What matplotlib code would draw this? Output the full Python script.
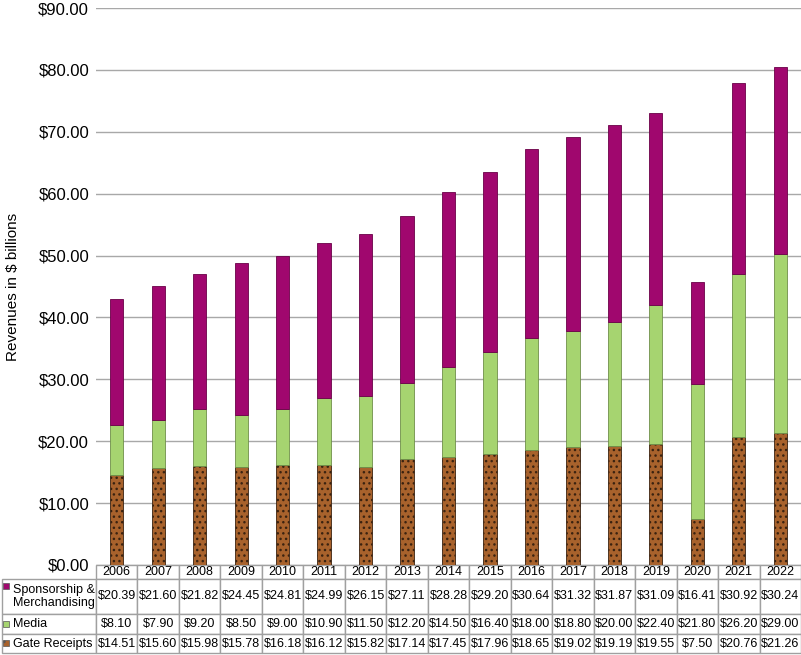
import matplotlib
matplotlib.use("Agg")
import matplotlib.pyplot as plt
from matplotlib.patches import Rectangle
from matplotlib.table import Table

plt.rcParams['font.family'] = ['Liberation Sans', 'DejaVu Sans']

years = ['2006', '2007', '2008', '2009', '2010', '2011', '2012', '2013', '2014',
         '2015', '2016', '2017', '2018', '2019', '2020', '2021', '2022']
sponsorship = [20.39, 21.60, 21.82, 24.45, 24.81, 24.99, 26.15, 27.11, 28.28,
               29.20, 30.64, 31.32, 31.87, 31.09, 16.41, 30.92, 30.24]
media = [8.10, 7.90, 9.20, 8.50, 9.00, 10.90, 11.50, 12.20, 14.50,
         16.40, 18.00, 18.80, 20.00, 22.40, 21.80, 26.20, 29.00]
gate = [14.51, 15.60, 15.98, 15.78, 16.18, 16.12, 15.82, 17.14, 17.45,
        17.96, 18.65, 19.02, 19.19, 19.55, 7.50, 20.76, 21.26]
series_names = ['Sponsorship &\nMerchandising', 'Media', 'Gate Receipts']
yticks = [0, 10, 20, 30, 40, 50, 60, 70, 80, 90]

c_spons = '#A0076E'
c_media = '#A6D470'
c_gate = '#A8622C'

W, H = 801, 655
fig = plt.figure(figsize=(W / 100, H / 100), dpi=100)
ax_l, ax_r, ax_t, ax_b = 96, 801, 8, 565
ax = fig.add_axes([ax_l / W, 1 - ax_b / H, (ax_r - ax_l) / W, (ax_b - ax_t) / H])
aw, ah = ax_r - ax_l, ax_b - ax_t

x = list(range(len(years)))
bw = 0.32
bottom2 = [g + m for g, m in zip(gate, media)]
ax.bar(x, gate, bw, color=c_gate, edgecolor='#3a2210', linewidth=0.6, hatch='...', zorder=2)
ax.bar(x, media, bw, bottom=gate, color=c_media, edgecolor='#6f8f4a', linewidth=0.6, zorder=2)
ax.bar(x, sponsorship, bw, bottom=bottom2, color=c_spons, edgecolor='#6a0048', linewidth=0.6, zorder=2)

ax.set_xlim(-0.5, len(years) - 0.5)
ax.set_ylim(0, 90)
ax.set_yticks(yticks)
ax.set_yticklabels(['${:.2f}'.format(v) for v in yticks], fontsize=12)
ax.set_xticks([])
ax.tick_params(axis='y', length=0, pad=5)
ax.yaxis.grid(True, color='#A8A8A8', linewidth=1)
ax.set_axisbelow(True)
for s in ax.spines.values():
    s.set_visible(False)
ax.set_ylabel('Revenues in $ billions', fontsize=11)
ax.yaxis.set_label_coords((20 - ax_l) / aw, 0.5)

# data table under the bars
rows = [sponsorship, media, gate]
row_h = [14, 35, 20, 19]
lab_w = 94
col_w = 1 / len(years)
# bbox only covers the year/value cells; the label column sits to its left
tab = Table(ax, bbox=[0, -sum(row_h) / ah, 1, sum(row_h) / ah])
tab.auto_set_font_size(False)
for j, yr in enumerate(years):
    tab.add_cell(0, j, col_w, row_h[0] / ah, text=yr, loc='center')
for i, vals in enumerate(rows):
    h = row_h[i + 1] / ah
    lab = tab.add_cell(i + 1, -1, lab_w / aw, h, text=series_names[i], loc='left')
    lab.PAD = 11 / lab_w
    for j, v in enumerate(vals):
        tab.add_cell(i + 1, j, col_w, h, text='${:.2f}'.format(v), loc='center')
tab.set_fontsize(9)
for cell in tab.get_celld().values():
    cell.set_edgecolor('#A0A0A0')
    cell.set_linewidth(1)
ax.add_table(tab)

# legend keys inside the row labels
sq = 6
key_y = [586, 624, 643]
key_col = [c_spons, c_media, c_gate]
for i in range(3):
    fig.add_artist(Rectangle((3 / W, 1 - (key_y[i] + sq / 2) / H), sq / W, sq / H,
                             transform=fig.transFigure, facecolor=key_col[i],
                             edgecolor='#555555', linewidth=0.5,
                             hatch='..' if i == 2 else None))

fig.savefig('out.png', dpi=100)
